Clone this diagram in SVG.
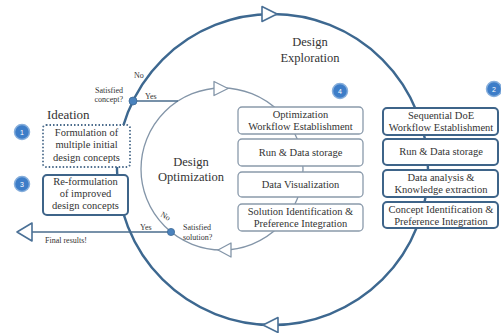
<svg xmlns="http://www.w3.org/2000/svg" width="501" height="333" viewBox="0 0 501 333" font-family="'Liberation Serif', 'Times New Roman', serif">
<style>
text{font-family:"Liberation Serif","Times New Roman",serif;fill:#333;}
.box{font-size:10.5px;text-anchor:middle;}
.lbl{font-size:8px;}
.title{font-size:12.5px;text-anchor:middle;}
.big{fill:none;stroke:#3d6890;stroke-width:2.4;}
.inner{fill:none;stroke:#8395a8;stroke-width:1.3;}
.arrB{fill:#fff;stroke:#4a7096;stroke-width:1.6;stroke-linejoin:round;}
.arrI{fill:#fff;stroke:#8395a8;stroke-width:1.3;stroke-linejoin:round;}
.expl{fill:#fff;stroke:#3e6489;stroke-width:2;}
.opt{fill:#fff;stroke:#8a9aab;stroke-width:1.3;}
.dash{fill:#fff;stroke:#4c6c8c;stroke-width:1.8;stroke-dasharray:1.5 2;}
.num{fill:#3d7dc8;stroke:#86aedb;stroke-width:1.5;}
.numt{font-family:"Liberation Sans",Arial,sans-serif;font-size:7px;fill:#fff;text-anchor:middle;}
.dot{fill:#4a82bd;stroke:#3d6a96;stroke-width:0.8;}
</style>
<rect width="501" height="333" fill="#fff"/>
<g id="connectors">
<circle class="big" cx="272.5" cy="169.5" r="155.5"/>
<circle class="inner" cx="222" cy="169" r="81"/>
<line x1="133" y1="101" x2="178" y2="101" stroke="#4a6d8c" stroke-width="1.5"/>
<line x1="32" y1="232" x2="171" y2="232" stroke="#4a6d8c" stroke-width="1.5"/>
<polygon class="arrB" points="262,6.5 262,21.5 277,14"/>
<polygon class="arrB" points="263,325 278,317.5 278,332.5"/>
<polygon class="arrI" points="214,81.5 214,95.5 228,88.5"/>
<polygon class="arrI" points="218,250 231,243 231,257"/>
<polygon class="arrB" points="17,232 32,223 32,241"/>
<circle class="dot" cx="133" cy="101" r="4"/>
<circle class="dot" cx="171" cy="232" r="3.6"/>
<text class="lbl" x="134" y="78">No</text>
<text class="lbl" x="145" y="99">Yes</text>
<text class="lbl" x="123" y="93" text-anchor="end">Satisfied</text>
<text class="lbl" x="123" y="102" text-anchor="end">concept?</text>
<text class="lbl" x="161" y="218" transform="rotate(30 164 215)">No</text>
<text class="lbl" x="140" y="230">Yes</text>
<text class="lbl" x="183" y="230">Satisfied</text>
<text class="lbl" x="183" y="240">solution?</text>
<text class="lbl" x="45" y="243">Final results!</text>
</g>
<g id="title-exploration">
<text class="title" x="310" y="46">Design</text>
<text class="title" x="310" y="62">Exploration</text>
</g>
<g id="title-optimization">
<text class="title" x="191" y="166">Design</text>
<text class="title" x="191" y="181">Optimization</text>
</g>
<g id="ideation">
<text x="47" y="119" font-size="13">Ideation</text>
</g>
<g id="node-1">
<circle class="num" cx="22" cy="132" r="7.5"/>
<text class="numt" x="22" y="134.5">1</text>
<rect class="dash" x="43" y="125" width="87" height="42" rx="3"/>
<text class="box" x="86.5" y="136">Formulation of</text>
<text class="box" x="86.5" y="148">multiple initial</text>
<text class="box" x="86.5" y="161">design concepts</text>
</g>
<g id="node-3">
<circle class="num" cx="22" cy="184" r="7.5"/>
<text class="numt" x="22" y="186.5">3</text>
<rect class="expl" x="43" y="175" width="85" height="40" rx="4"/>
<text class="box" x="85.5" y="185">Re-formulation</text>
<text class="box" x="85.5" y="197">of improved</text>
<text class="box" x="85.5" y="209">design concepts</text>
</g>
<g id="badge-4">
<circle class="num" cx="340" cy="91" r="7.5"/>
<text class="numt" x="340" y="93.5">4</text>
</g>
<g id="opt-1">
<rect class="opt" x="238" y="107" width="125" height="27" rx="4"/>
<text class="box" x="300.5" y="118">Optimization</text>
<text class="box" x="300.5" y="130">Workflow Establishment</text>
</g>
<g id="opt-2">
<rect class="opt" x="238" y="139" width="125" height="27" rx="4"/>
<text class="box" x="300.5" y="156">Run &amp; Data storage</text>
</g>
<g id="opt-3">
<rect class="opt" x="238" y="172" width="125" height="25" rx="4"/>
<text class="box" x="300.5" y="188">Data Visualization</text>
</g>
<g id="opt-4">
<rect class="opt" x="238" y="204" width="125" height="27" rx="4"/>
<text class="box" x="300.5" y="215">Solution Identification &amp;</text>
<text class="box" x="300.5" y="227">Preference Integration</text>
</g>
<g id="badge-2">
<circle class="num" cx="494" cy="89" r="7.5"/>
<text class="numt" x="494" y="91.5">2</text>
</g>
<g id="exp-1">
<rect class="expl" x="383" y="108" width="115" height="27" rx="4"/>
<text class="box" x="441" y="119">Sequential DoE</text>
<text class="box" x="441" y="131">Workflow Establishment</text>
</g>
<g id="exp-2">
<rect class="expl" x="383" y="139" width="115" height="26" rx="4"/>
<text class="box" x="441" y="155">Run &amp; Data storage</text>
</g>
<g id="exp-3">
<rect class="expl" x="383" y="170" width="115" height="27" rx="4"/>
<text class="box" x="441" y="181">Data analysis &amp;</text>
<text class="box" x="441" y="193">Knowledge extraction</text>
</g>
<g id="exp-4">
<rect class="expl" x="383" y="202" width="115" height="26" rx="4"/>
<text class="box" x="441" y="213">Concept Identification &amp;</text>
<text class="box" x="441" y="225">Preference Integration</text>
</g>
</svg>
